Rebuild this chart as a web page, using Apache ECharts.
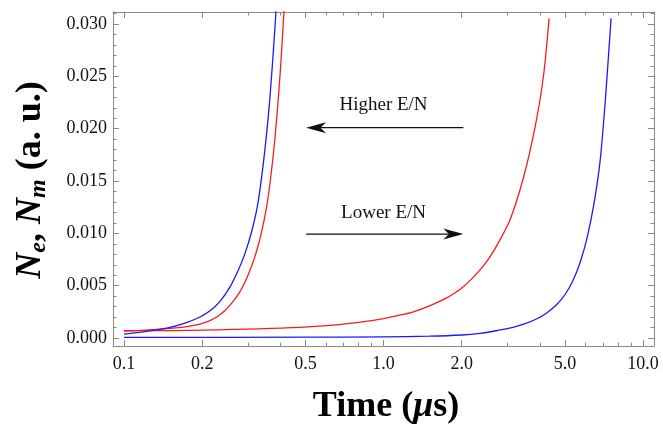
<!DOCTYPE html>
<html>
<head>
<meta charset="utf-8">
<script src="https://cdn.jsdelivr.net/npm/echarts@6/dist/echarts.min.js"></script>
<style>html,body{margin:0;padding:0;background:#fff}#c{width:663px;height:429px}</style>
</head>
<body>
<div id="c"></div>
<script>
// ---- data (time in microseconds, density in a.u.) ----
const tBlueFast = [0.1, 0.1205, 0.1461, 0.1718, 0.1963, 0.2145, 0.2344, 0.2562, 0.2750, 0.2926, 0.3113, 0.3284, 0.3463, 0.3622, 0.3752, 0.3853];
const vBlueFast = [0.00038, 0.00062, 0.00094, 0.00143, 0.00201, 0.0026, 0.00351, 0.00489, 0.00642, 0.00809, 0.0103, 0.01294, 0.01724, 0.02201, 0.02698, 0.03128];
const tRedFast = [0.1, 0.1205, 0.1461, 0.1718, 0.1963, 0.2108, 0.2277, 0.2451, 0.2638, 0.2775, 0.2926, 0.3085, 0.3246, 0.3402, 0.3548, 0.3667, 0.3784, 0.3886, 0.3990, 0.4062, 0.4135];
const vRedFast = [0.00067, 0.00076, 0.0009, 0.00107, 0.00134, 0.0016, 0.00201, 0.00263, 0.00353, 0.0043, 0.00536, 0.00671, 0.00834, 0.01032, 0.01261, 0.01515, 0.01816, 0.02131, 0.02504, 0.028, 0.03125];
const tRedSlow = [0.1, 0.2, 0.477, 0.743, 1.0, 1.137, 1.303, 1.511, 1.752, 1.887, 2.030, 2.183, 2.354, 2.516, 2.690, 3.073, 3.457, 3.836, 4.129, 4.344];
const vRedSlow = [0.0007, 0.00076, 0.00102, 0.0014, 0.00186, 0.00215, 0.00251, 0.0031, 0.00384, 0.00432, 0.00491, 0.00563, 0.00651, 0.00743, 0.00854, 0.01131, 0.01529, 0.02016, 0.02494, 0.03054];
const tBlueSlow = [0.1, 0.5, 1.0, 1.5, 2.0, 2.355, 2.738, 3.155, 3.510, 3.904, 4.267, 4.651, 5.006, 5.375, 5.717, 6.083, 6.474, 6.83, 7.139, 7.396, 7.53];
const vBlueSlow = [0.00006, 0.00008, 0.00012, 0.00018, 0.00029, 0.00045, 0.00072, 0.00102, 0.00137, 0.00184, 0.00242, 0.0032, 0.00416, 0.00553, 0.0072, 0.00954, 0.01289, 0.0169, 0.02239, 0.02775, 0.03054];

const xMajorTicks = [0.1, 0.2, 0.5, 1, 2, 5, 10];
const xMinorTicks = [0.3, 0.4, 0.6, 0.7, 0.8, 0.9, 3, 4, 6, 7, 8, 9];
const yMajorTicks = [0, 0.005, 0.01, 0.015, 0.02, 0.025, 0.03];
const yMinorTicks = [0.001, 0.002, 0.003, 0.004, 0.006, 0.007, 0.008, 0.009, 0.011, 0.012, 0.013, 0.014,
  0.016, 0.017, 0.018, 0.019, 0.021, 0.022, 0.023, 0.024, 0.026, 0.027, 0.028, 0.029, 0.031];

const annTexts = ['Higher E/N', 'Lower E/N'];
const annTextT = [1.0, 1.0];
const annTextV = [0.02225, 0.01194];
const arrowFromT = [2.03, 0.503];
const arrowToT = [0.503, 2.03];
const arrowV = [0.0201, 0.00993];

const X_MIN = 0.0907, X_MAX = 11.02, Y_MIN = -0.00076, Y_MAX = 0.03115;
const FRAME = '#8a8a8a';
const SERIF = '"Liberation Serif", "DejaVu Serif", serif';

function pairs(t, v) { return t.map((x, i) => [x, v[i]]); }

function xAxisDef(pos, ticks, len, showLine, showLabel) {
  return {
    type: 'log', logBase: 10, position: pos, min: X_MIN, max: X_MAX, gridIndex: 0,
    axisLine: { show: showLine, onZero: false, lineStyle: { color: FRAME, width: 1 } },
    axisTick: { show: true, inside: true, length: len, customValues: ticks, lineStyle: { color: FRAME, width: 1 } },
    axisLabel: { show: showLabel, customValues: ticks, margin: 9, color: '#111', fontFamily: SERIF, fontSize: 18,
      formatter: v => Number(v).toFixed(1) },
    splitLine: { show: false }, minorTick: { show: false }, minorSplitLine: { show: false }
  };
}
function yAxisDef(pos, ticks, len, showLine, showLabel) {
  return {
    type: 'value', position: pos, min: Y_MIN, max: Y_MAX, gridIndex: 0,
    axisLine: { show: showLine, onZero: false, lineStyle: { color: FRAME, width: 1 } },
    axisTick: { show: true, inside: true, length: len, customValues: ticks, lineStyle: { color: FRAME, width: 1 } },
    axisLabel: { show: showLabel, customValues: ticks, margin: 6, color: '#111', fontFamily: SERIF, fontSize: 18,
      formatter: v => Number(v).toFixed(3) },
    splitLine: { show: false }
  };
}

const chart = echarts.init(document.getElementById('c'), null, { renderer: 'canvas' });

function lineSeries(t, v, color) {
  return {
    type: 'line', xAxisIndex: 0, yAxisIndex: 0, data: pairs(t, v), showSymbol: false, symbol: 'none',
    smooth: 0.3, clip: true,
    lineStyle: { color: color, width: 1.3 }, itemStyle: { color: color }, animation: false, silent: true
  };
}

chart.setOption({
  animation: false,
  backgroundColor: '#fff',
  grid: { left: 113, right: 9, top: 12, bottom: 83, containLabel: false, outerBoundsMode: 'none' },
  xAxis: [
    xAxisDef('bottom', xMajorTicks, 6, true, true),
    xAxisDef('bottom', xMinorTicks, 3.5, false, false),
    xAxisDef('top', xMajorTicks, 6, true, false),
    xAxisDef('top', xMinorTicks, 3.5, false, false)
  ],
  yAxis: [
    yAxisDef('left', yMajorTicks, 6, true, true),
    yAxisDef('left', yMinorTicks, 3.5, false, false),
    yAxisDef('right', yMajorTicks, 6, true, false),
    yAxisDef('right', yMinorTicks, 3.5, false, false)
  ],
  series: [
    lineSeries(tRedSlow, vRedSlow, '#ff1a1a'),
    lineSeries(tBlueSlow, vBlueSlow, '#1a1aff'),
    lineSeries(tRedFast, vRedFast, '#ff1a1a'),
    lineSeries(tBlueFast, vBlueFast, '#1a1aff')
  ]
});

// annotations positioned through the chart's own scales
function px(t, v) { return chart.convertToPixel({ xAxisIndex: 0, yAxisIndex: 0 }, [t, v]); }
const graphics = [];
for (let i = 0; i < annTexts.length; i++) {
  const p = px(annTextT[i], annTextV[i]);
  graphics.push({ type: 'text', x: p[0], y: p[1], silent: true,
    style: { text: annTexts[i], fill: '#111', font: '19px ' + SERIF, align: 'center', verticalAlign: 'middle' } });
  const a = px(arrowFromT[i], arrowV[i]);
  const b = px(arrowToT[i], arrowV[i]);
  const dx = b[0] - a[0], dy = b[1] - a[1];
  const L = Math.hypot(dx, dy), ux = dx / L, uy = dy / L, nx = -uy, ny = ux;
  const HL = 20, HW = 5.5;
  graphics.push({ type: 'line', silent: true,
    shape: { x1: a[0], y1: a[1], x2: b[0] - ux * 10, y2: b[1] - uy * 10 },
    style: { stroke: '#111', lineWidth: 1.4 } });
  graphics.push({ type: 'polygon', silent: true,
    shape: { points: [
      [b[0], b[1]],
      [b[0] - ux * HL + nx * HW, b[1] - uy * HL + ny * HW],
      [b[0] - ux * HL * 0.72, b[1] - uy * HL * 0.72],
      [b[0] - ux * HL - nx * HW, b[1] - uy * HL - ny * HW]
    ] },
    style: { fill: '#111' } });
}
// axis titles
const yTop = px(1, Y_MAX)[1], yBot = px(1, Y_MIN)[1];
graphics.push({ type: 'text', x: 31, y: (yTop + yBot) / 2 + 1, rotation: Math.PI / 2, silent: true,
  style: {
    text: '{n|N}{s|e}{b|, }{n|N}{s|m}{b| (a. u.)}',
    align: 'center', verticalAlign: 'middle', fill: '#000',
    rich: {
      n: { fontFamily: SERIF, fontSize: 36, fontWeight: 'bold', fontStyle: 'italic', lineHeight: 40, fill: '#000' },
      b: { fontFamily: SERIF, fontSize: 36, fontWeight: 'bold', lineHeight: 40, fill: '#000' },
      s: { fontFamily: SERIF, fontSize: 24, fontWeight: 'bold', fontStyle: 'italic', lineHeight: 24, padding: [16, 0, 0, 0], fill: '#000' }
    }
  } });
graphics.push({ type: 'text', x: 386, y: 407, silent: true,
  style: {
    text: '{b|Time (}{i|μ}{b|s)}', align: 'center', verticalAlign: 'middle', fill: '#000',
    rich: {
      b: { fontFamily: SERIF, fontSize: 36, fontWeight: 'bold', fill: '#000' },
      i: { fontFamily: SERIF, fontSize: 36, fontWeight: 'bold', fontStyle: 'italic', fill: '#000' }
    }
  } });
chart.setOption({ graphic: graphics });
</script>
</body>
</html>
